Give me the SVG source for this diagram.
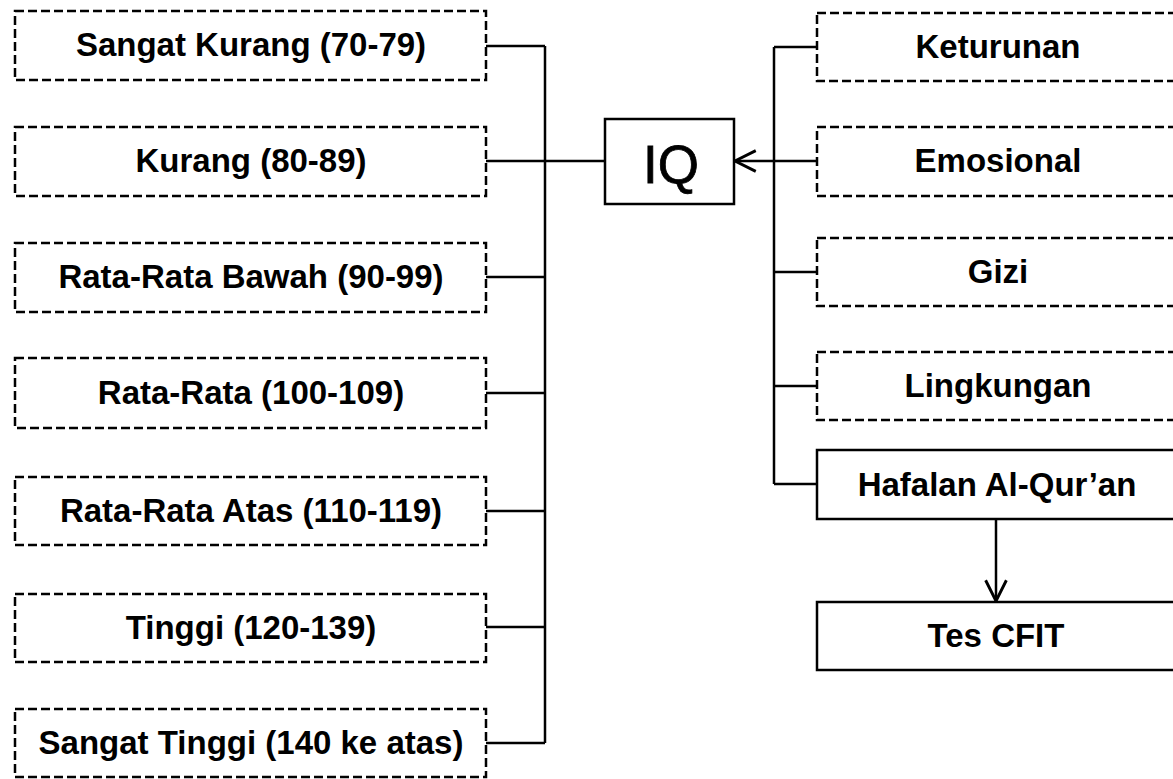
<svg xmlns="http://www.w3.org/2000/svg" width="1173" height="779" viewBox="0 0 1173 779">
<defs>
<style>
.dash{fill:#fff;stroke:#000;stroke-width:2.5;stroke-dasharray:9 4}
.solid{fill:#fff;stroke:#000;stroke-width:2.5}
.t{font-family:"Liberation Sans",Arial,sans-serif;font-size:33px;font-weight:bold;text-anchor:middle;fill:#000}
.iq{font-family:"Liberation Sans",Arial,sans-serif;font-size:53px;text-anchor:middle;fill:#000;stroke:#000;stroke-width:0.8}
.c{fill:none;stroke:#000;stroke-width:2.5}
</style>
<marker id="open" markerUnits="userSpaceOnUse" markerWidth="30" markerHeight="30" viewBox="-22 -12 26 24" refX="0" refY="0" orient="auto">
<path d="M-18,-9 L0,0 L-18,9" fill="none" stroke="#000" stroke-width="2.5"/>
</marker>
</defs>
<rect width="1173" height="779" fill="#fff"/>
<g id="connectors">
<path class="c" d="M486 46 H545 M486 161 H605 M486 277 H545 M486 393 H545 M486 511 H545 M486 627 H545 M486 743 H545 M545 46 V743"/>
<path class="c" d="M817 47 H774 M817 272 H774 M817 386 H774 M817 484 H774 M774 47 V484"/>
<path class="c" d="M817 161 H735" marker-end="url(#open)"/>
<path class="c" d="M996 519 V601" marker-end="url(#open)"/>
</g>
<g id="n_sangat_kurang"><rect class="dash" x="15" y="11" width="471" height="69"/><text class="t" x="251" y="56">Sangat Kurang (70-79)</text></g>
<g id="n_kurang"><rect class="dash" x="15" y="127" width="471" height="69"/><text class="t" x="251" y="172">Kurang (80-89)</text></g>
<g id="n_rr_bawah"><rect class="dash" x="15" y="243" width="471" height="69"/><text class="t" x="251" y="288">Rata-Rata Bawah (90-99)</text></g>
<g id="n_rr"><rect class="dash" x="15" y="358" width="471" height="70"/><text class="t" x="251" y="404">Rata-Rata (100-109)</text></g>
<g id="n_rr_atas"><rect class="dash" x="15" y="477" width="471" height="68"/><text class="t" x="251" y="522">Rata-Rata Atas (110-119)</text></g>
<g id="n_tinggi"><rect class="dash" x="15" y="594" width="471" height="68"/><text class="t" x="251" y="639">Tinggi (120-139)</text></g>
<g id="n_sangat_tinggi"><rect class="dash" x="15" y="709" width="471" height="68"/><text class="t" x="251" y="754">Sangat Tinggi (140 ke atas)</text></g>
<g id="n_iq"><rect class="solid" x="605" y="119" width="129" height="85"/><text class="iq" x="671" y="183">IQ</text></g>
<g id="n_keturunan"><rect class="dash" x="817" y="13" width="360" height="68"/><text class="t" x="998" y="58">Keturunan</text></g>
<g id="n_emosional"><rect class="dash" x="817" y="127" width="360" height="69"/><text class="t" x="998" y="172">Emosional</text></g>
<g id="n_gizi"><rect class="dash" x="817" y="238" width="360" height="68"/><text class="t" x="998" y="283">Gizi</text></g>
<g id="n_lingkungan"><rect class="dash" x="817" y="352" width="360" height="68"/><text class="t" x="998" y="397">Lingkungan</text></g>
<g id="n_hafalan"><rect class="solid" x="817" y="450" width="360" height="69"/><text class="t" x="997" y="496">Hafalan Al-Qur’an</text></g>
<g id="n_cfit"><rect class="solid" x="817" y="602" width="360" height="68"/><text class="t" x="996" y="647">Tes CFIT</text></g>
</svg>
